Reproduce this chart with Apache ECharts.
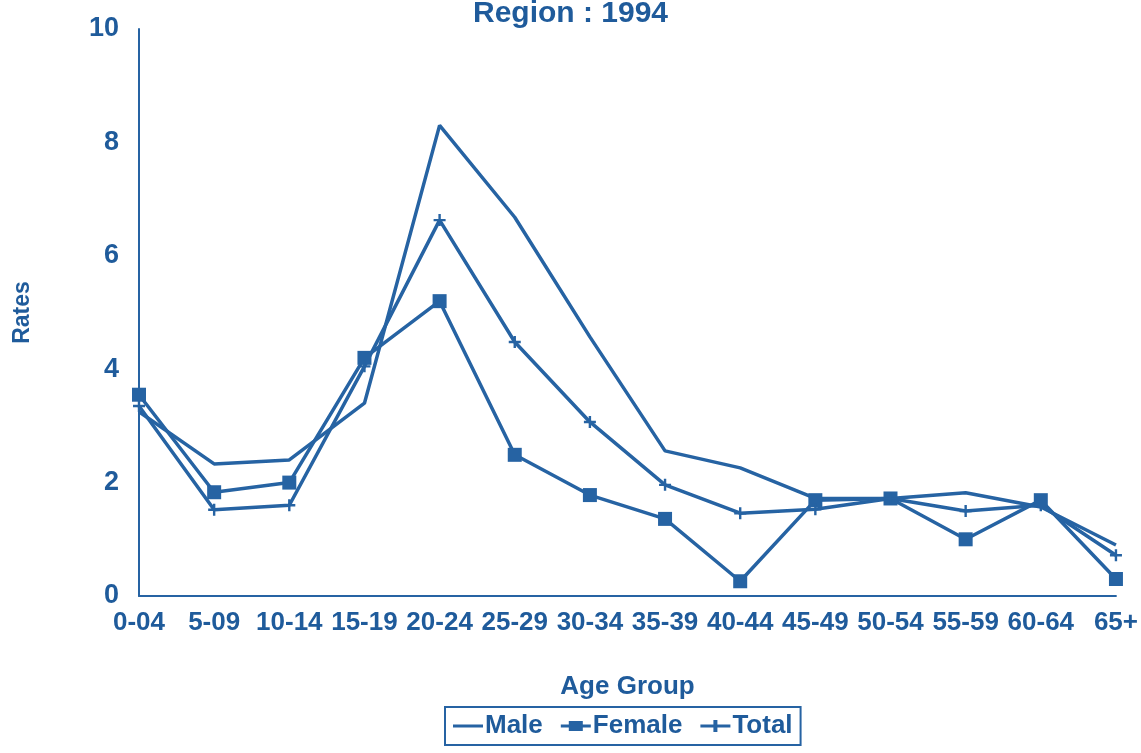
<!DOCTYPE html>
<html>
<head>
<meta charset="utf-8">
<script src="https://cdn.jsdelivr.net/npm/echarts@6/dist/echarts.min.js"></script>
<style>
html,body{margin:0;padding:0;background:#ffffff;}
#chart{width:1141px;height:753px;}
</style>
</head>
<body>
<div id="chart"></div>
<script>
var categories = ['0-04','5-09','10-14','15-19','20-24','25-29','30-34','35-39','40-44','45-49','50-54','55-59','60-64','65+'];
var maleValues   = [3.25, 2.33, 2.40, 3.40, 8.30, 6.68, 4.57, 2.56, 2.26, 1.72, 1.72, 1.82, 1.57, 0.90];
var femaleValues = [3.55, 1.83, 2.00, 4.20, 5.20, 2.49, 1.78, 1.36, 0.26, 1.69, 1.72, 1.00, 1.69, 0.30];
var totalValues  = [3.35, 1.52, 1.60, 4.05, 6.63, 4.48, 3.07, 1.96, 1.46, 1.53, 1.72, 1.50, 1.60, 0.72];
var yTicks = [0, 2, 4, 6, 8, 10];

var lineColor = '#2663a3';
var textColor = '#1f5b9b';
var fontFam = '"Liberation Sans", Arial, sans-serif';

var chart = echarts.init(document.getElementById('chart'), null, {renderer: 'canvas'});
chart.setOption({
  animation: false,
  backgroundColor: '#ffffff',
  title: {
    text: 'Region : 1994',
    left: 'center',
    top: -6,
    textStyle: {color: textColor, fontFamily: fontFam, fontWeight: 'bold', fontSize: 30}
  },
  legend: {
    left: 445,
    top: 707,
    padding: [6, 8, 6, 8],
    itemGap: 18,
    itemWidth: 30,
    itemHeight: 14,
    borderColor: lineColor,
    borderWidth: 2,
    borderRadius: 0,
    textStyle: {color: textColor, fontFamily: fontFam, fontWeight: 'bold', fontSize: 26, padding: [0,0,0,-3]},
    data: [
      {name: 'Male', icon: 'path://M0,5.5H30V8.5H0Z M0,0H0.01V0.01H0Z M30,14H29.99V13.99H30Z'},
      {name: 'Female', icon: 'path://M0,5.5H8V2H22V5.5H30V8.5H22V12H8V8.5H0Z'},
      {name: 'Total', icon: 'path://M0,5.5H13V1H17V5.5H30V8.5H17V13H13V8.5H0Z'}
    ]
  },
  grid: {left: 139, right: 24, top: 29, bottom: 157, containLabel: false},
  xAxis: {
    type: 'category',
    data: categories,
    boundaryGap: false,
    axisLine: {show: true, lineStyle: {color: lineColor, width: 2}},
    axisTick: {show: false},
    splitLine: {show: false},
    axisLabel: {color: textColor, fontFamily: fontFam, fontWeight: 'bold', fontSize: 26, margin: 14, interval: 0},
    name: 'Age Group',
    nameLocation: 'middle',
    nameGap: 78,
    nameTextStyle: {color: textColor, fontFamily: fontFam, fontWeight: 'bold', fontSize: 26}
  },
  yAxis: {
    type: 'value',
    min: yTicks[0],
    max: yTicks[yTicks.length - 1],
    interval: 2,
    axisLine: {show: true, lineStyle: {color: lineColor, width: 2}},
    axisTick: {show: false},
    splitLine: {show: false},
    axisLabel: {color: textColor, fontFamily: fontFam, fontWeight: 'bold', fontSize: 27, margin: 20},
    name: 'Rates',
    nameLocation: 'middle',
    nameGap: 105,
    nameRotate: 90,
    nameTextStyle: {color: textColor, fontFamily: fontFam, fontWeight: 'bold', fontSize: 23}
  },
  series: [
    {
      name: 'Male', type: 'line', data: maleValues,
      symbol: 'none', lineStyle: {color: lineColor, width: 3.5}, itemStyle: {color: lineColor}
    },
    {
      name: 'Female', type: 'line', data: femaleValues,
      symbol: 'rect', symbolSize: 14,
      lineStyle: {color: lineColor, width: 3.5}, itemStyle: {color: lineColor}
    },
    {
      name: 'Total', type: 'line', data: totalValues,
      symbol: 'path://M4,0H6V4H10V6H6V10H4V6H0V4H4Z', symbolSize: 12,
      lineStyle: {color: lineColor, width: 3.5}, itemStyle: {color: lineColor}
    }
  ]
});
</script>
</body>
</html>
